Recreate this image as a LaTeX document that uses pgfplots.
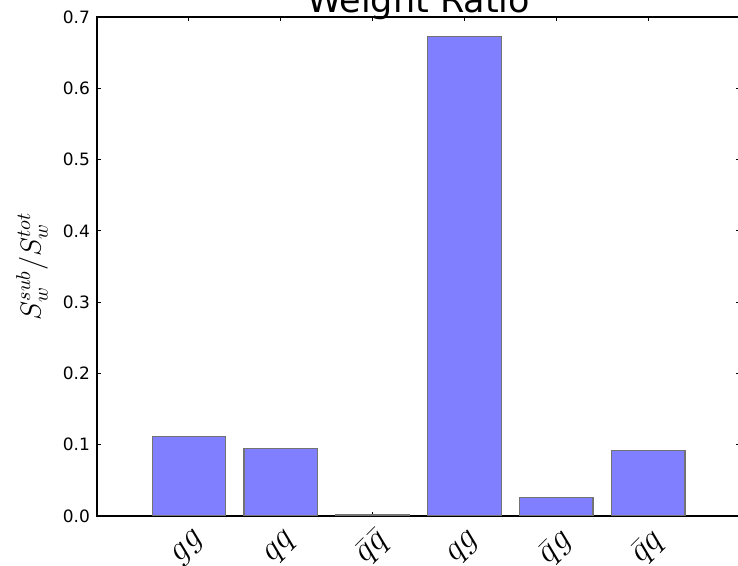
\documentclass[border=0pt]{standalone}
\usepackage{pgfplots}
\pgfplotsset{compat=1.18}
\usepackage{graphicx}
\usepackage{fontspec}
\setmainfont{DejaVu Sans}
\newcommand{\rl}[1]{\rotatebox{45}{$#1$}}
\begin{document}
\begin{tikzpicture}
\begin{axis}[
 name=ax,
 scale only axis,
 width=321.5pt, height=249.5pt,
 xmin=-1, xmax=6, ymin=0, ymax=0.7,
 ybar, bar width=0.8,
 xtick={0,1,2,3,4,5},
 xticklabels={\rl{gg},\rl{qq},\rl{\bar q\bar q},\rl{qg},\rl{\bar q g},\rl{\bar q q}},
 ytick={0,0.1,0.2,0.3,0.4,0.5,0.6,0.7},
 yticklabel style={/pgf/number format/fixed, /pgf/number format/fixed zerofill, /pgf/number format/precision=1, font=\fontsize{8.5}{10}\selectfont},
 /pgf/number format/assume math mode=true,
 tick align=inside,
 major tick length=2.2pt,
 tick style={black, line width=0.5pt},
 axis line style={line width=0.7pt},
 xticklabel style={anchor=center, yshift=-16pt, font=\fontsize{16}{18}\selectfont},
 ylabel={$S_w^{sub}/S_w^{tot}$},
 ylabel style={at={(axis description cs:-0.101,0.5)}, anchor=center, font=\fontsize{14.5}{16}\selectfont},
 title={Weight Ratio},
 title style={at={(axis description cs:0.5,1)}, anchor=base, yshift=-4pt, font=\fontsize{17.5}{20}\selectfont},
]
\addplot[fill={rgb,255:red,127;green,127;blue,255}, draw=black!55, line width=0.6pt] coordinates {(0,0.111) (1,0.0944) (2,0.002) (3,0.673) (4,0.026) (5,0.0916)};
\end{axis}
\pgfresetboundingbox
\path[use as bounding box] ([shift={(-48.5pt,-25pt)}]ax.south west) rectangle ([shift={(-1pt,8.5pt)}]ax.north east);
\end{tikzpicture}
\end{document}
